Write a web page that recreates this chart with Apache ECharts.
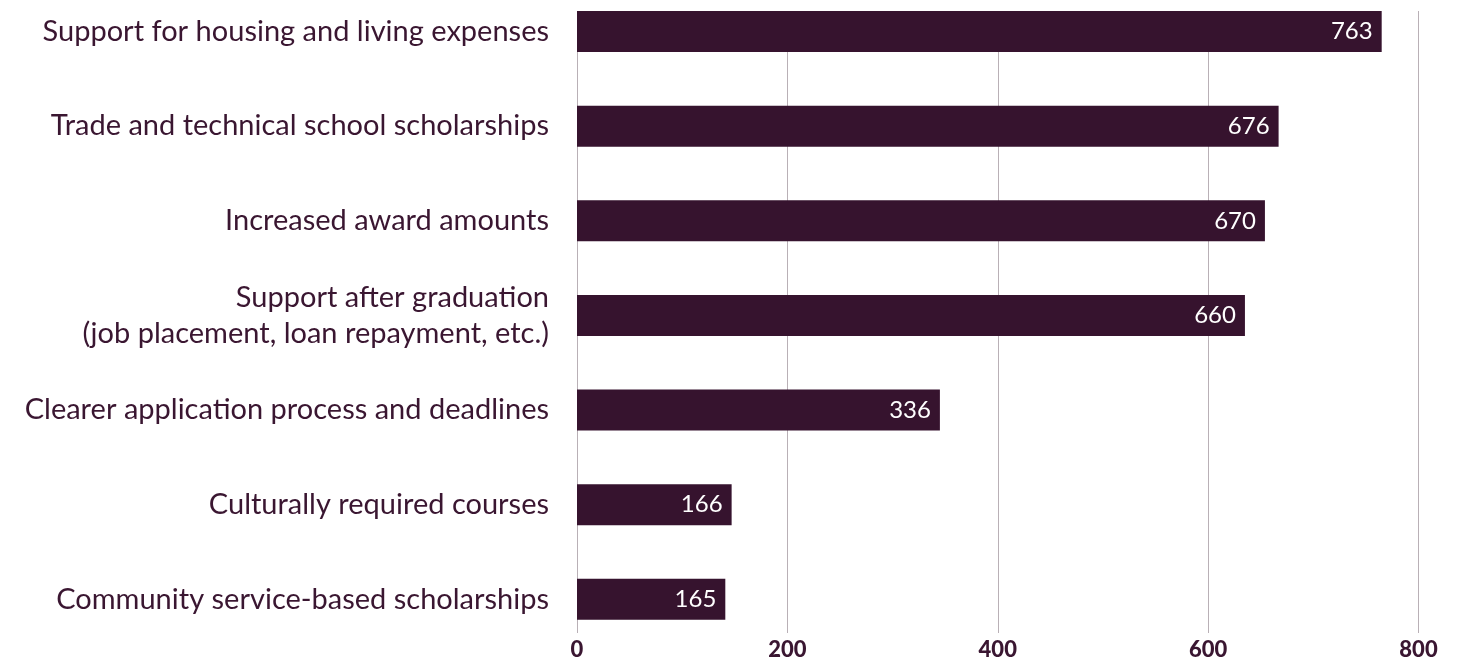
<!DOCTYPE html>
<html>
<head>
<meta charset="utf-8">
<script src="https://cdn.jsdelivr.net/npm/echarts@6/dist/echarts.min.js"></script>
<style>
  html, body { margin: 0; padding: 0; background: #fff; }
</style>
</head>
<body>
<div id="chart" style="width: 1460px; height: 661px"></div>
<script>
// categories, top to bottom
const categories = [
  'Support for housing and living expenses',
  'Trade and technical school scholarships',
  'Increased award amounts',
  'Support after graduation\n(job placement, loan repayment, etc.)',
  'Clearer application process and deadlines',
  'Culturally required courses',
  'Community service-based scholarships'
];
// bar lengths as drawn in the picture
const barValues = [765, 667, 654, 635, 345, 147, 141];
// numbers printed on the bars
const labelValues = [763, 676, 670, 660, 336, 166, 165];
const xTicks = [0, 200, 400, 600, 800];

const ink = '#3a1631';
const barColor = '#36132e';
const fontFamily = 'Lato, "Noto Sans", sans-serif';

const chart = echarts.init(document.getElementById('chart'));

const option = {
  animation: false,
  grid: [
    // grid for grid lines and x labels
    { left: 577, right: 41.5, top: 11, bottom: 27 },
    // grid for the bars
    { left: 577, right: 41.5, top: 31.5, bottom: 61.7 }
  ],
  xAxis: [
    {
      gridIndex: 0,
      type: 'value',
      min: xTicks[0],
      max: xTicks[xTicks.length - 1],
      interval: 200,
      axisLine: { show: false },
      axisTick: { show: false },
      splitLine: { show: true, lineStyle: { color: '#b9b0b6', width: 1 } },
      axisLabel: {
        margin: 6,
        color: ink,
        fontFamily: fontFamily,
        fontWeight: 900,
        fontSize: 22
      }
    },
    {
      gridIndex: 1,
      type: 'value',
      min: xTicks[0],
      max: xTicks[xTicks.length - 1],
      show: false
    }
  ],
  yAxis: [
    {
      gridIndex: 0,
      type: 'value',
      show: false
    },
    {
      gridIndex: 1,
      type: 'category',
      data: categories,
      inverse: true,
      boundaryGap: false,
      axisLine: { show: false },
      axisTick: { show: false },
      splitLine: { show: false },
      axisLabel: {
        margin: 28,
        color: ink,
        fontFamily: fontFamily,
        fontSize: 29,
        lineHeight: 36,
        align: 'right'
      }
    }
  ],
  series: [
    {
      type: 'bar',
      xAxisIndex: 1,
      yAxisIndex: 1,
      data: barValues,
      barWidth: 41,
      itemStyle: { color: barColor },
      label: {
        show: true,
        position: 'insideRight',
        distance: 9,
        color: '#ffffff',
        fontFamily: fontFamily,
        fontSize: 24,
        formatter: function (params) {
          return labelValues[params.dataIndex];
        }
      }
    }
  ]
};
chart.setOption(option);
</script>
</body>
</html>
